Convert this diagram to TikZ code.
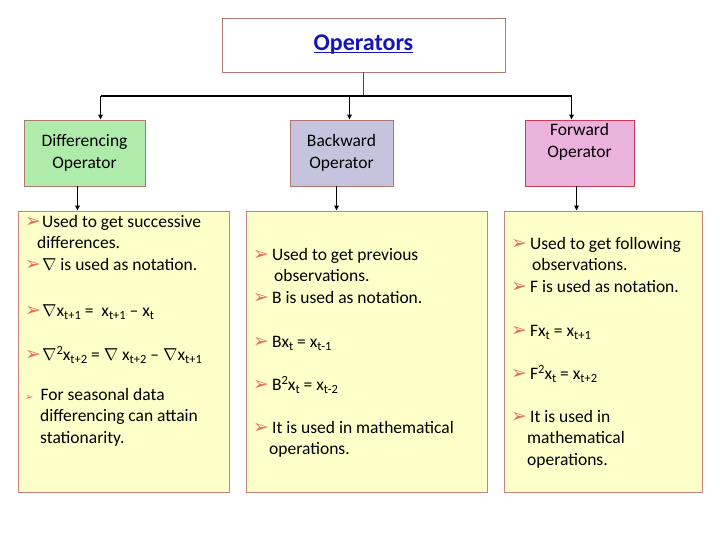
\documentclass[tikz,border=0pt]{standalone}
\usepackage{fontspec}
\setmainfont{Carlito}
\newfontfamily\symfont{DejaVu Sans}
\usetikzlibrary{arrows.meta,positioning,calc}
\definecolor{titleC}{RGB}{20,20,190}
\definecolor{frameC}{RGB}{175,120,115}
\definecolor{diffC}{RGB}{175,235,170}
\definecolor{backC}{RGB}{197,195,222}
\definecolor{fwdC}{RGB}{235,178,222}
\definecolor{fwdframeC}{RGB}{200,60,85}
\definecolor{noteC}{RGB}{255,255,202}
\definecolor{noteframeC}{RGB}{200,130,120}
\definecolor{bulletC}{RGB}{228,112,92}
\newcommand{\bul}{{\color{bulletC}\symfont\fontsize{19}{19}\selectfont ➢}}
\newcommand{\sbul}{{\color{bulletC}\symfont\fontsize{10}{10}\selectfont ➢}\hspace{4pt}}
\newcommand{\sbs}[1]{\raisebox{-3.5pt}{\fontsize{12.5}{12.5}\selectfont #1}}
\newcommand{\sps}[1]{\raisebox{6pt}{\fontsize{12.5}{12.5}\selectfont #1}}
\newcommand{\nab}{$\nabla$}
\newcommand{\ulin}[1]{\setbox0\hbox{#1}\rlap{\rule[-2pt]{\wd0}{1.1pt}}\box0}

\begin{document}
\begin{tikzpicture}[x=1pt,y=-1pt,>={Triangle[length=5pt,width=4.5pt]},
  hdbox/.style={draw=frameC,line width=0.8pt,inner sep=0pt,align=center,
    font=\fontsize{17.5}{22}\selectfont},
  notebox/.style={draw=noteframeC,fill=noteC,line width=0.8pt,inner sep=0pt},
  itemtxt/.style={anchor=base west,inner sep=0pt,align=left,
    font=\fontsize{17.5}{21.5}\selectfont},
  link/.style={->,line width=1.4pt}]
  \useasboundingbox (0,0) rectangle (720,540);
  % title and the three operator heads
  \node[draw=frameC,line width=0.8pt,minimum width=283pt,minimum height=54pt,
    font=\fontsize{24}{24}\selectfont\bfseries,text=titleC] (top) at (363.5,45)
    {\ulin{Operators}};
  \node[hdbox,fill=diffC,minimum width=121pt,minimum height=66pt] (dh) at (84.5,153)
    {Differencing\\Operator};
  \node[hdbox,fill=backC,minimum width=103pt,minimum height=66pt] (bh) at (341.5,153)
    {Backward\\Operator};
  \node[hdbox,draw=fwdframeC,fill=fwdC,minimum width=109pt,minimum height=66pt] (fh) at (579.5,153) {};
  \node[align=center,inner sep=0pt,font=\fontsize{17.5}{22}\selectfont] (fhl) at (579.5,142)
    {Forward\\Operator};
  % note boxes
  \node[notebox,minimum width=211pt,minimum height=281pt] (dc) at (123.5,351.5) {};
  \node[notebox,minimum width=241pt,minimum height=281pt] (bc) at (366.5,351.5) {};
  \node[notebox,minimum width=198pt,minimum height=281pt] (fc) at (603,351.5) {};
  % connectors
  \coordinate (jn) at (363.5,96);
  \draw[line width=0.8pt,black!70] (top) -- (jn);
  \draw[line width=1.4pt] ([xshift=16pt]dh.north |- jn) -- ([xshift=-8pt]fh.north |- jn);
  \draw[link] ([xshift=16pt]dh.north |- jn) -- ([xshift=16pt]dh.north);
  \draw[link] ([xshift=8pt]bh.north |- jn) -- ([xshift=8pt]bh.north);
  \draw[link] ([xshift=-8pt]fh.north |- jn) -- ([xshift=-8pt]fh.north);
  \draw[link] ([xshift=-7pt]dh.south) -- ([xshift=-7pt]dh.south |- dc.north);
  \draw[link] ([xshift=-5pt]bh.south) -- ([xshift=-5pt]bh.south |- bc.north);
  \draw[link] ([xshift=-3pt]fh.south) -- ([xshift=-3pt]fh.south |- fc.north);
  % differencing items (anchor = baseline of the last line)
  \node[itemtxt] (d1) at (25,270) {\bul\hspace{1pt}Used to get successive\\\hspace*{12pt}differences.\\\bul\hspace{1pt}\nab{} is used as notation.};
  \node[itemtxt] (d2) at (25,316) {\bul\hspace{1pt}\nab x\sbs{t+1} = \ x\sbs{t+1} -- x\sbs{t}};
  \node[itemtxt] (d3) at (25,360) {\bul\hspace{1pt}\nab\sps{2}x\sbs{t+2} = \nab{} x\sbs{t+2} -- \nab x\sbs{t+1}};
  \node[itemtxt] (d4) at (25,443) {\sbul\hspace{3pt}For seasonal data\\\hspace*{15pt}differencing can attain\\\hspace*{15pt}stationarity.};
  % backward items
  \node[itemtxt] (b1) at (253,303) {\bul\hspace{3pt}Used to get previous\\\hspace*{21pt}observations.\\\bul\hspace{3pt}B is used as notation.};
  \node[itemtxt] (b2) at (253,347) {\bul\hspace{3pt}Bx\sbs{t} = x\sbs{t-1}};
  \node[itemtxt] (b3) at (253,390) {\bul\hspace{3pt}B\sps{2}x\sbs{t} = x\sbs{t-2}};
  \node[itemtxt] (b4) at (253,454.5) {\bul\hspace{3pt}It is used in mathematical\\\hspace*{16pt}operations.};
  % forward items
  \node[itemtxt] (f1) at (511,292) {\bul\hspace{3pt}Used to get following\\\hspace*{21pt}observations.\\\bul\hspace{3pt}F is used as notation.};
  \node[itemtxt] (f2) at (511,336) {\bul\hspace{3pt}Fx\sbs{t} = x\sbs{t+1}};
  \node[itemtxt] (f3) at (511,379) {\bul\hspace{3pt}F\sps{2}x\sbs{t} = x\sbs{t+2}};
  \node[itemtxt] (f4) at (511,465) {\bul\hspace{3pt}It is used in\\\hspace*{16pt}mathematical\\\hspace*{16pt}operations.};
\end{tikzpicture}
\end{document}
